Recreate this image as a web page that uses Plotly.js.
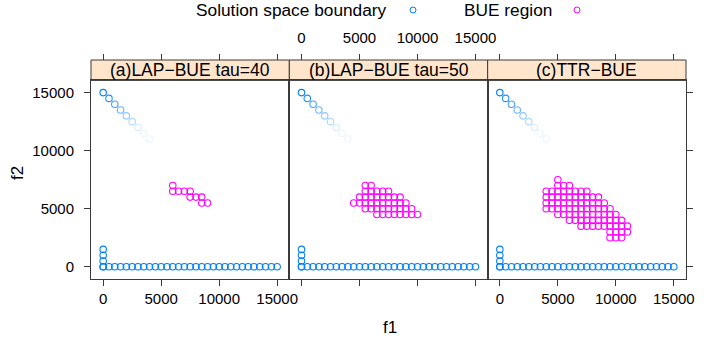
<!DOCTYPE html>
<html>
<head>
<meta charset="utf-8">
<script src="https://cdn.plot.ly/plotly-3.0.1.min.js"></script>
<style>html,body{margin:0;padding:0;background:#fff;}#chart{width:706px;height:346px;}</style>
</head>
<body>
<div id="chart"></div>
<script>
// ---- data ----
var panelTitles = ["(a)LAP\u2212BUE tau=40", "(b)LAP\u2212BUE tau=50", "(c)TTR\u2212BUE"];
var seriesNames = ["Solution space boundary", "BUE region"];
var axisTitles = ["f1", "f2"];
var tickVals = [0, 5000, 10000, 15000];
var tickText = ["0", "5000", "10000", "15000"];

// solution space boundary (same in all panels)
var boundaryX = [0, 0, 0, 0,
  0, 500, 1000, 1500, 2000, 2500, 3000, 3500, 4000, 4500, 5000, 5500, 6000, 6500, 7000, 7500,
  8000, 8500, 9000, 9500, 10000, 10500, 11000, 11500, 12000, 12500, 13000, 13500, 14000, 14500, 15000];
var boundaryY = [500, 1000, 1500, 0,
  0, 0, 0, 0, 0, 0, 0, 0, 0, 0, 0, 0, 0, 0, 0, 0,
  0, 0, 0, 0, 0, 0, 0, 0, 0, 0, 0, 0, 0, 0, 0];
// faded diagonal part of the boundary
var diagX = [0, 500, 1000, 1500, 2000, 2500, 3000, 3500, 4000];
var diagY = [15000, 14500, 14000, 13500, 13000, 12500, 12000, 11500, 11000];

// BUE regions
var bueAx = [6000, 6000, 6500, 7000, 7500, 7500, 8000, 8500, 8500, 9000];
var bueAy = [7000, 6500, 6500, 6500, 6500, 6000, 6000, 6000, 5500, 5500];

var bueBx = [5500, 6000,
  5500, 6000, 6500, 7000, 7500,
  5000, 5500, 6000, 6500, 7000, 7500, 8000, 8500,
  4500, 5000, 5500, 6000, 6500, 7000, 7500, 8000, 8500, 9000,
  5500, 6000, 6500, 7000, 7500, 8000, 8500, 9000, 9500,
  6500, 7000, 7500, 8000, 8500, 9000, 9500, 10000];
var bueBy = [7000, 7000,
  6500, 6500, 6500, 6500, 6500,
  6000, 6000, 6000, 6000, 6000, 6000, 6000, 6000,
  5500, 5500, 5500, 5500, 5500, 5500, 5500, 5500, 5500, 5500,
  5000, 5000, 5000, 5000, 5000, 5000, 5000, 5000, 5000,
  4500, 4500, 4500, 4500, 4500, 4500, 4500, 4500];

var bueCx = [5000,
  5000, 5500, 6000,
  4000, 4500, 5000, 5500, 6000, 6500, 7000, 7500,
  4000, 4500, 5000, 5500, 6000, 6500, 7000, 7500, 8000, 8500,
  4000, 4500, 5000, 5500, 6000, 6500, 7000, 7500, 8000, 8500, 9000,
  4000, 4500, 5000, 5500, 6000, 6500, 7000, 7500, 8000, 8500, 9000, 9500,
  5000, 5500, 6000, 6500, 7000, 7500, 8000, 8500, 9000, 9500, 10000,
  6000, 6500, 7000, 7500, 8000, 8500, 9000, 9500, 10000, 10500,
  7000, 7500, 8000, 8500, 9000, 9500, 10000, 10500, 11000,
  9500, 10000, 10500, 11000,
  9500, 10000, 10500];
var bueCy = [7500,
  7000, 7000, 7000,
  6500, 6500, 6500, 6500, 6500, 6500, 6500, 6500,
  6000, 6000, 6000, 6000, 6000, 6000, 6000, 6000, 6000, 6000,
  5500, 5500, 5500, 5500, 5500, 5500, 5500, 5500, 5500, 5500, 5500,
  5000, 5000, 5000, 5000, 5000, 5000, 5000, 5000, 5000, 5000, 5000, 5000,
  4500, 4500, 4500, 4500, 4500, 4500, 4500, 4500, 4500, 4500, 4500,
  4000, 4000, 4000, 4000, 4000, 4000, 4000, 4000, 4000, 4000,
  3500, 3500, 3500, 3500, 3500, 3500, 3500, 3500, 3500,
  3000, 3000, 3000, 3000,
  2500, 2500, 2500];

// ---- drawing ----
var blue = "#0080ff", magenta = "#ff00ff", lineCol = "#3a3a3a";
var FONT = "Liberation Sans, Arial, Helvetica, sans-serif";
var TICK = 15;
var bueX = [bueAx, bueBx, bueCx], bueY = [bueAy, bueBy, bueCy];
var diagOpacity = diagX.map(function (d, i) { return Math.max(0.08, 1 - i * 0.14); });

var traces = [];
for (var p = 0; p < 3; p++) {
  var xa = p === 0 ? "x" : "x" + (p + 1);
  var ya = p === 0 ? "y" : "y" + (p + 1);
  traces.push({x: boundaryX, y: boundaryY, xaxis: xa, yaxis: ya, type: "scatter", mode: "markers",
    name: seriesNames[0], showlegend: false, hoverinfo: "x+y",
    marker: {symbol: "circle-open", size: 6.5, color: blue, line: {width: 1.1, color: blue}}});
  traces.push({x: diagX, y: diagY, xaxis: xa, yaxis: ya, type: "scatter", mode: "markers",
    name: seriesNames[0], showlegend: false, hoverinfo: "x+y",
    marker: {symbol: "circle-open", size: 6.5, color: blue, opacity: diagOpacity, line: {width: 1.1, color: blue}}});
  traces.push({x: bueX[p], y: bueY[p], xaxis: xa, yaxis: ya, type: "scatter", mode: "markers",
    name: seriesNames[1], showlegend: false, hoverinfo: "x+y",
    marker: {symbol: "circle-open", size: 6.5, color: magenta, line: {width: 1.1, color: magenta}}});
  traces.push({x: [], y: [], xaxis: "x" + (p + 4), yaxis: ya, type: "scatter", mode: "markers", showlegend: false});
}

var xr = [-1050, 16050], yr = [-1050, 16050];
var dataTop = 0.9068;
var doms = [[0, 1 / 3], [1 / 3, 2 / 3], [2 / 3, 1]];

var layout = {
  width: 706, height: 346,
  margin: {l: 91, r: 20, t: 60, b: 67, pad: 0},
  paper_bgcolor: "#fff", plot_bgcolor: "#fff",
  showlegend: false,
  font: {family: FONT, size: TICK, color: "#000"},
  shapes: [], annotations: []
};

for (var p = 0; p < 3; p++) {
  var sfx = p === 0 ? "" : String(p + 1);
  layout["xaxis" + sfx] = {
    domain: doms[p], range: xr, anchor: "y" + sfx, showgrid: false, zeroline: false,
    showline: true, mirror: true, linecolor: lineCol, linewidth: 1,
    ticks: "outside", ticklen: 6, tickwidth: 1, tickcolor: lineCol,
    tickvals: tickVals, ticktext: tickText, showticklabels: p !== 1,
    tickfont: {family: FONT, size: TICK, color: "#000"}
  };
  layout["yaxis" + sfx] = {
    domain: [0, dataTop], range: yr, anchor: "x" + sfx, showgrid: false, zeroline: false,
    showline: true, mirror: true, linecolor: lineCol, linewidth: 1,
    ticks: p === 1 ? "" : "outside", ticklen: 6, tickwidth: 1, tickcolor: lineCol,
    side: p === 2 ? "right" : "left", ticklabelstandoff: 7,
    tickvals: tickVals, ticktext: tickText, showticklabels: p === 0,
    tickfont: {family: FONT, size: TICK, color: "#000"}
  };
  layout["xaxis" + (p + 4)] = {
    overlaying: "x" + sfx, anchor: "free", position: 1, side: "top", range: xr,
    showgrid: false, zeroline: false, showline: false,
    ticks: "outside", ticklen: 6, tickwidth: 1, tickcolor: lineCol, ticklabelstandoff: 5,
    tickvals: tickVals, ticktext: tickText, showticklabels: p === 1,
    tickfont: {family: FONT, size: TICK, color: "#000"}
  };
  layout.shapes.push({type: "rect", xref: "paper", yref: "paper", x0: doms[p][0], x1: doms[p][1],
    y0: dataTop, y1: 1, fillcolor: "#ffe5cc", line: {color: lineCol, width: 1}, layer: "below"});
  layout.annotations.push({xref: "paper", yref: "paper", x: (doms[p][0] + doms[p][1]) / 2, y: (dataTop + 1) / 2,
    text: panelTitles[p], showarrow: false, xanchor: "center", yanchor: "middle",
    font: {family: FONT, size: 17.5, color: "#000"}});
}

function pxX(px) { return (px - 91) / 595; }
function pxY(py) { return (279 - py) / 219; }
// axis titles
layout.annotations.push({xref: "paper", yref: "paper", x: pxX(390), y: pxY(327), xanchor: "center", yanchor: "middle",
  text: axisTitles[0], showarrow: false, font: {family: FONT, size: 17, color: "#000"}});
layout.annotations.push({xref: "paper", yref: "paper", x: pxX(17), y: pxY(173), xanchor: "center", yanchor: "middle",
  text: axisTitles[1], showarrow: false, textangle: -90, font: {family: FONT, size: 17, color: "#000"}});
// key at the top
layout.annotations.push({xref: "paper", yref: "paper", x: pxX(389), y: pxY(10), xanchor: "right", yanchor: "middle",
  text: seriesNames[0], showarrow: false, font: {family: FONT, size: 17.3, color: "#000"}});
layout.annotations.push({xref: "paper", yref: "paper", x: pxX(554), y: pxY(10), xanchor: "right", yanchor: "middle",
  text: seriesNames[1], showarrow: false, font: {family: FONT, size: 17.3, color: "#000"}});
[[413, blue], [577, magenta]].forEach(function (k) {
  layout.shapes.push({type: "circle", xref: "paper", yref: "paper", xsizemode: "pixel", ysizemode: "pixel",
    xanchor: pxX(k[0]), yanchor: pxY(10), x0: -3, x1: 3, y0: -3, y1: 3,
    line: {color: k[1], width: 1}, fillcolor: "rgba(0,0,0,0)"});
});

Plotly.newPlot("chart", traces, layout, {staticPlot: true, displayModeBar: false});
</script>
</body>
</html>
